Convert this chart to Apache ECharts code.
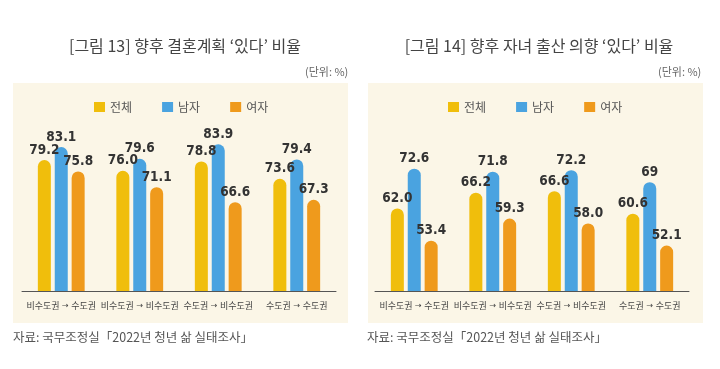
<!DOCTYPE html>
<html>
<head>
<meta charset="utf-8">
<script src="https://cdn.jsdelivr.net/npm/echarts@6/dist/echarts.min.js"></script>
<style>html,body{margin:0;padding:0;background:#fff}#c{width:720px;height:369px}</style>
</head>
<body>
<div id="c"></div>
<script>
var categories = ['비수도권→수도권', '비수도권→비수도권', '수도권→비수도권', '수도권→수도권'];
var seriesNames = ['전체', '남자', '여자'];
var marriageTotal = [79.2, 76.0, 78.8, 73.6];
var marriageMale = [83.1, 79.6, 83.9, 79.4];
var marriageFemale = [75.8, 71.1, 66.6, 67.3];
var childTotal = [62.0, 66.2, 66.6, 60.6];
var childMale = [72.6, 71.8, 72.2, 69];
var childFemale = [53.4, 59.3, 58.0, 52.1];
var childMaleLabels = ['72.6', '71.8', '72.2', '69'];

var colors = ['#F0BE0C', '#4AA3E0', '#EF9A1C'];
var FONT = '"Noto Sans CJK KR", "Noto Sans", sans-serif';
var NUMFONT = '"DejaVu Sans Condensed", "Roboto", sans-serif';

function mkSeries(name, data, idx, color, fmt) {
  return {
    name: name, type: 'bar', xAxisIndex: idx, yAxisIndex: idx,
    data: data, barWidth: 13, barGap: '30%',
    itemStyle: { color: color, borderRadius: [7, 7, 0, 0] },
    label: {
      show: true, position: 'top', distance: 3,
      fontFamily: NUMFONT, fontWeight: 'bold', fontSize: 13.5, color: '#333',
      formatter: fmt || function (p) { return p.value.toFixed(1); }
    }
  };
}

function catLabel(v) {
  var parts = v.split('→');
  return '{h|' + parts[0] + '}{a| → }{h|' + parts[1] + '}';
}

var chart = echarts.init(document.getElementById('c'), null, { renderer: 'canvas' });
chart.setOption({
  animation: false,
  backgroundColor: '#fff',
  graphic: [
    { type: 'rect', z: -10, shape: { x: 13, y: 83, width: 335, height: 240 }, style: { fill: '#FBF6E7' } },
    { type: 'rect', z: -10, shape: { x: 368, y: 83, width: 335, height: 240 }, style: { fill: '#FBF6E7' } },
    { type: 'text', left: 305, top: 66, style: { text: '(단위: %)', font: '11px ' + FONT, fill: '#666' } },
    { type: 'text', left: 658, top: 66, style: { text: '(단위: %)', font: '11px ' + FONT, fill: '#666' } },
    { type: 'text', left: 13, top: 331, style: { text: '자료: 국무조정실「2022년 청년 삶 실태조사」', font: '12.5px ' + FONT, fill: '#555' } },
    { type: 'text', left: 367, top: 331, style: { text: '자료: 국무조정실「2022년 청년 삶 실태조사」', font: '12.5px ' + FONT, fill: '#555' } }
  ],
  title: [
    { text: '[그림 13] 향후 결혼계획 ‘있다’ 비율', left: 180, top: 33, textAlign: 'center',
      textStyle: { fontFamily: FONT, fontSize: 16, fontWeight: 'normal', color: '#444' } },
    { text: '[그림 14] 향후 자녀 출산 의향 ‘있다’ 비율', left: 534, top: 33, textAlign: 'center',
      textStyle: { fontFamily: FONT, fontSize: 16, fontWeight: 'normal', color: '#444' } }
  ],
  legend: [
    { data: seriesNames, left: 89, top: 96, itemWidth: 11, itemHeight: 10, itemGap: 30, icon: 'rect',
      textStyle: { fontFamily: FONT, fontSize: 12, color: '#555' } },
    { data: seriesNames, left: 443, top: 96, itemWidth: 11, itemHeight: 10, itemGap: 30, icon: 'rect',
      textStyle: { fontFamily: FONT, fontSize: 12, color: '#555' } }
  ],
  grid: [
    { left: 22, right: 384, top: 124, bottom: 78 },
    { left: 375, right: 31, top: 124, bottom: 78 }
  ],
  xAxis: [0, 1].map(function (i) {
    return {
      type: 'category', gridIndex: i, data: categories,
      axisLine: { lineStyle: { color: '#555', width: 1 } },
      axisTick: { show: false },
      axisLabel: {
        interval: 0, margin: 10, formatter: catLabel,
        rich: {
          h: { fontFamily: FONT, fontSize: 9, color: '#444' },
          a: { fontFamily: '"DejaVu Sans", sans-serif', fontSize: 8, color: '#444' }
        }
      }
    };
  }),
  yAxis: [
    { type: 'value', gridIndex: 0, min: 40, max: 90, show: false, splitLine: { show: false } },
    { type: 'value', gridIndex: 1, min: 40, max: 84.5, show: false, splitLine: { show: false } }
  ],
  series: [
    mkSeries('전체', marriageTotal, 0, colors[0]),
    mkSeries('남자', marriageMale, 0, colors[1]),
    mkSeries('여자', marriageFemale, 0, colors[2]),
    mkSeries('전체', childTotal, 1, colors[0]),
    mkSeries('남자', childMale, 1, colors[1], function (p) { return childMaleLabels[p.dataIndex]; }),
    mkSeries('여자', childFemale, 1, colors[2])
  ]
});
</script>
</body>
</html>
